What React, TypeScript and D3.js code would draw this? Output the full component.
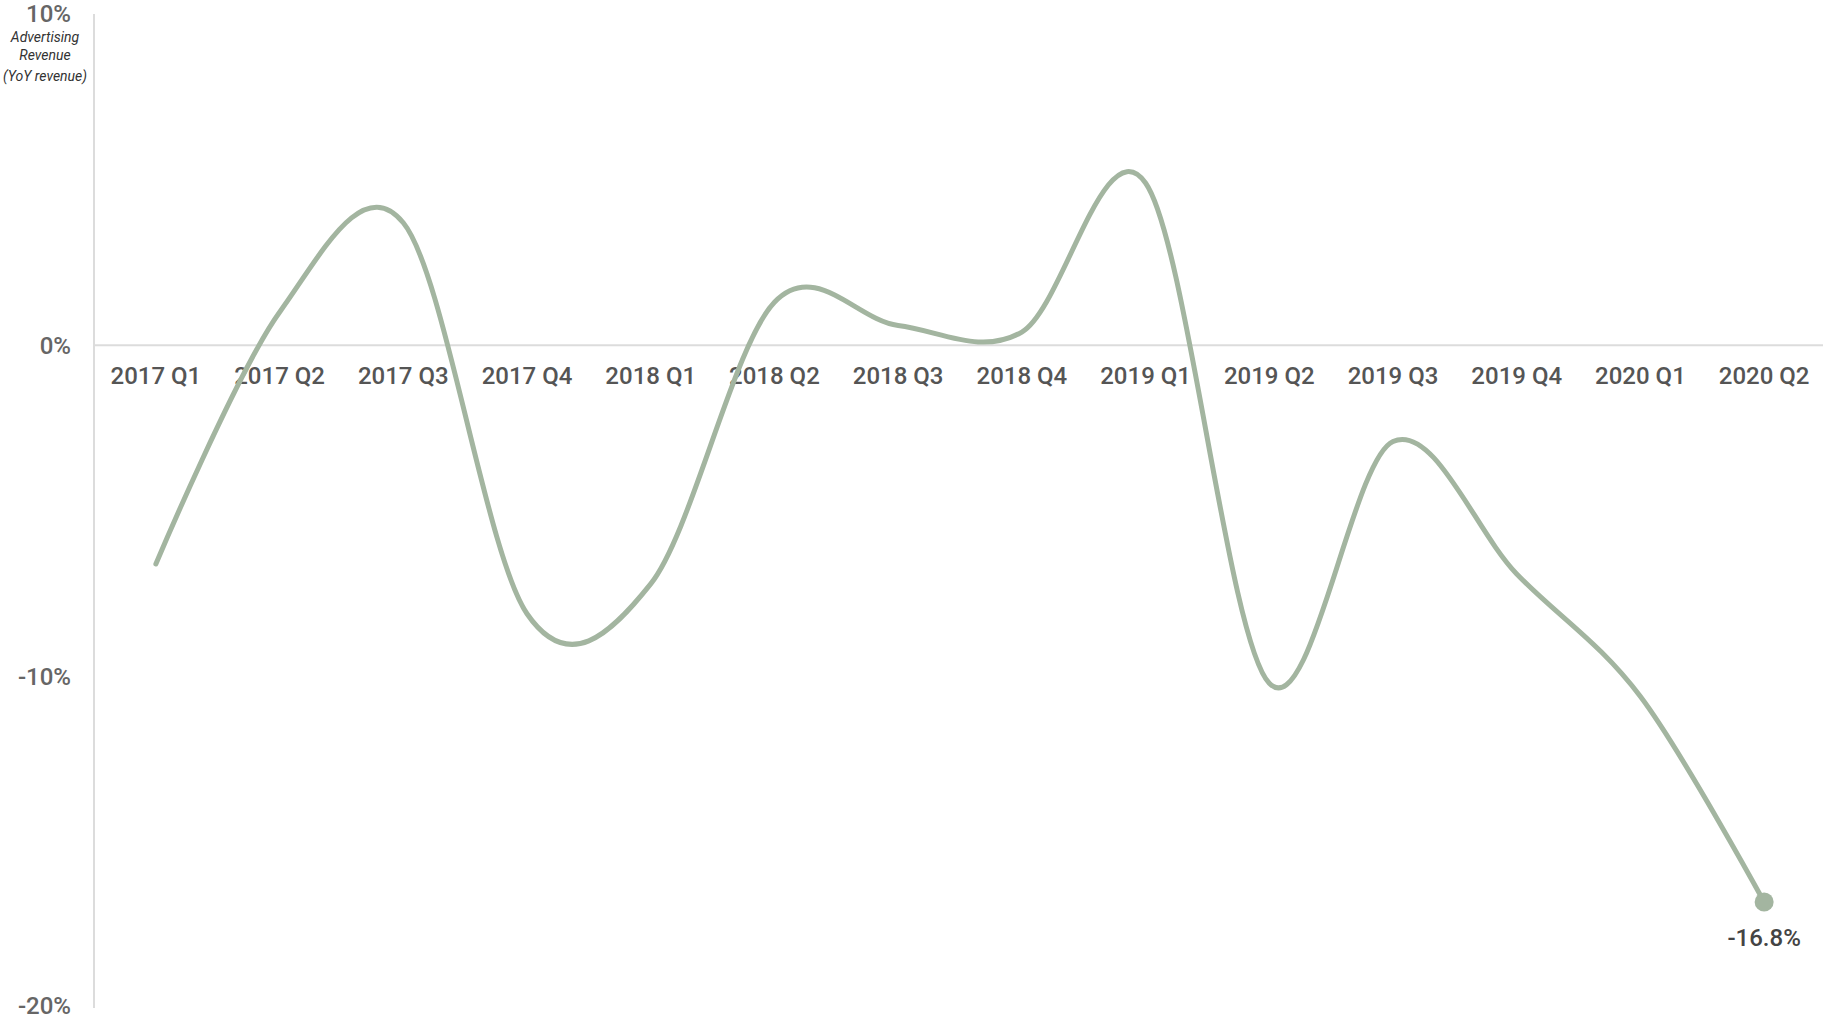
import React from "react";
import * as d3 from "d3";

const categories = [
  "2017 Q1", "2017 Q2", "2017 Q3", "2017 Q4",
  "2018 Q1", "2018 Q2", "2018 Q3", "2018 Q4",
  "2019 Q1", "2019 Q2", "2019 Q3", "2019 Q4",
  "2020 Q1", "2020 Q2",
];
const values = [-6.6, 1.0, 3.7, -8.1, -7.2, 1.3, 0.6, 0.4, 4.9, -10.2, -2.9, -6.9, -10.6, -16.8];
const yTicks = [10, 0, -10, -20];
const axisTitle = ["Advertising", "Revenue", "(YoY revenue)"];

const W = 1826;
const H = 1018;
const FONT = "Roboto, 'Noto Sans', sans-serif";
const LINE = "#a3b5a0";

export default function App() {
  const x = d3.scalePoint<string>().domain(categories).range([94, 1826]).padding(0.5);
  const y = d3.scaleLinear().domain([-20, 10]).range([1008, 14]);
  const pts: [number, number][] = values.map((v, i) => [x(categories[i]) as number, y(v)]);
  const line = d3.line().curve(d3.curveCardinal.tension(0))(pts) || "";
  const last = pts[pts.length - 1];
  const lastV = values[values.length - 1];

  return (
    <svg width={W} height={H} style={{ position: "absolute", left: 0, top: 0, background: "#fff" }}>
      <line x1={94} x2={1823} y1={y(0)} y2={y(0)} stroke="#dcdcdc" strokeWidth={2} />
      <line x1={94} x2={94} y1={14} y2={1008} stroke="#dcdcdc" strokeWidth={2} />
      {yTicks.map((t) => (
        <text key={t} x={71} y={t === -20 ? y(t) - 2 : y(t)} dy="0.35em" textAnchor="end" fontFamily={FONT}
          fontSize={24} fontWeight={500} fill="#666">{`${t}%`}</text>
      ))}
      {axisTitle.map((s, i) => (
        <text key={s} x={45} y={[42, 60, 81][i]} textAnchor="middle" fontFamily={FONT}
          fontSize={14} fontStyle="italic" fill="#333">{s}</text>
      ))}
      {categories.map((c) => (
        <text key={c} x={x(c)} y={384} textAnchor="middle" fontFamily={FONT}
          fontSize={24} fontWeight={500} fill="#555">{c}</text>
      ))}
      <path d={line} fill="none" stroke={LINE} strokeWidth={5} strokeLinecap="round" />
      <circle cx={last[0]} cy={last[1]} r={9.5} fill={LINE} />
      <text x={last[0]} y={946} textAnchor="middle" fontFamily={FONT} fontSize={24}
        fontWeight={500} fill="#444">{`${lastV}%`}</text>
    </svg>
  );
}
